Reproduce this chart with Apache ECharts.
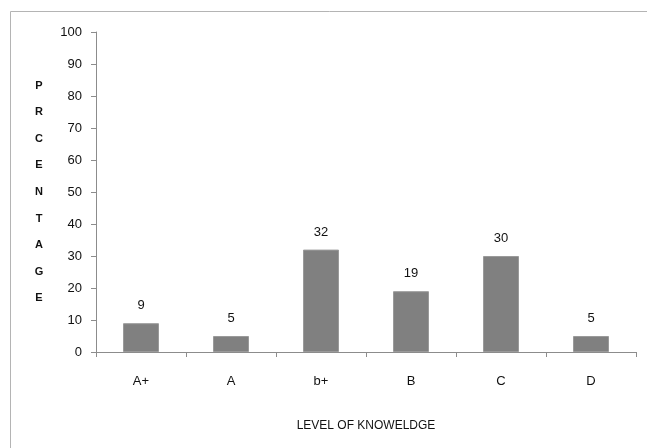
<!DOCTYPE html>
<html>
<head>
<meta charset="utf-8">
<script src="https://cdn.jsdelivr.net/npm/echarts@6/dist/echarts.min.js"></script>
<style>
  html, body { margin: 0; padding: 0; background: #fff; }
  #chart { width: 647px; height: 448px; }
</style>
</head>
<body>
<div id="chart"></div>
<script>
// Knowledge levels and the share of respondents at each level
const categories = ['A+', 'A', 'b+', 'B', 'C', 'D'];
const percentages = [9, 5, 32, 19, 30, 5];
const yTitleLetters = ['P', 'R', 'C', 'E', 'N', 'T', 'A', 'G', 'E'];

const font = '"Liberation Sans", "Open Sans", sans-serif';
const axisGray = '#8c8c8c';

const chart = echarts.init(document.getElementById('chart'));
chart.setOption({
  animation: false,
  backgroundColor: '#fff',
  graphic: [{
    type: 'rect',
    shape: { x: 10.5, y: 11.5, width: 700, height: 500 },
    style: { fill: 'none', stroke: '#b4b4b4', lineWidth: 1 },
    silent: true
  }],
  grid: { left: 96, right: 11, top: 32, bottom: 96 },
  xAxis: {
    type: 'category',
    data: categories,
    name: 'LEVEL OF KNOWELDGE',
    nameLocation: 'middle',
    nameGap: 68,
    nameTextStyle: { fontFamily: font, fontSize: 12, color: '#111' },
    axisLine: { lineStyle: { color: axisGray } },
    axisTick: { show: true, length: 5, lineStyle: { color: axisGray } },
    axisLabel: { fontFamily: font, fontSize: 13, color: '#111', margin: 23 }
  },
  yAxis: {
    type: 'value',
    min: 0,
    max: 100,
    interval: 10,
    name: yTitleLetters.join('\n'),
    nameLocation: 'middle',
    nameRotate: 0,
    nameGap: 57,
    nameTextStyle: {
      fontFamily: font, fontSize: 11, fontWeight: 'bold', color: '#111',
      lineHeight: 26.6, align: 'center'
    },
    axisLine: { show: true, lineStyle: { color: axisGray } },
    axisTick: { show: true, length: 5, lineStyle: { color: axisGray } },
    splitLine: { show: false },
    axisLabel: { fontFamily: font, fontSize: 13, color: '#111', margin: 14 }
  },
  series: [{
    type: 'bar',
    data: percentages,
    barWidth: 36,
    itemStyle: { color: '#808080', borderColor: '#9a9a9a', borderWidth: 1 },
    label: {
      show: true,
      position: 'top',
      distance: 11,
      fontFamily: font,
      fontSize: 13,
      color: '#111'
    }
  }]
});
</script>
</body>
</html>
